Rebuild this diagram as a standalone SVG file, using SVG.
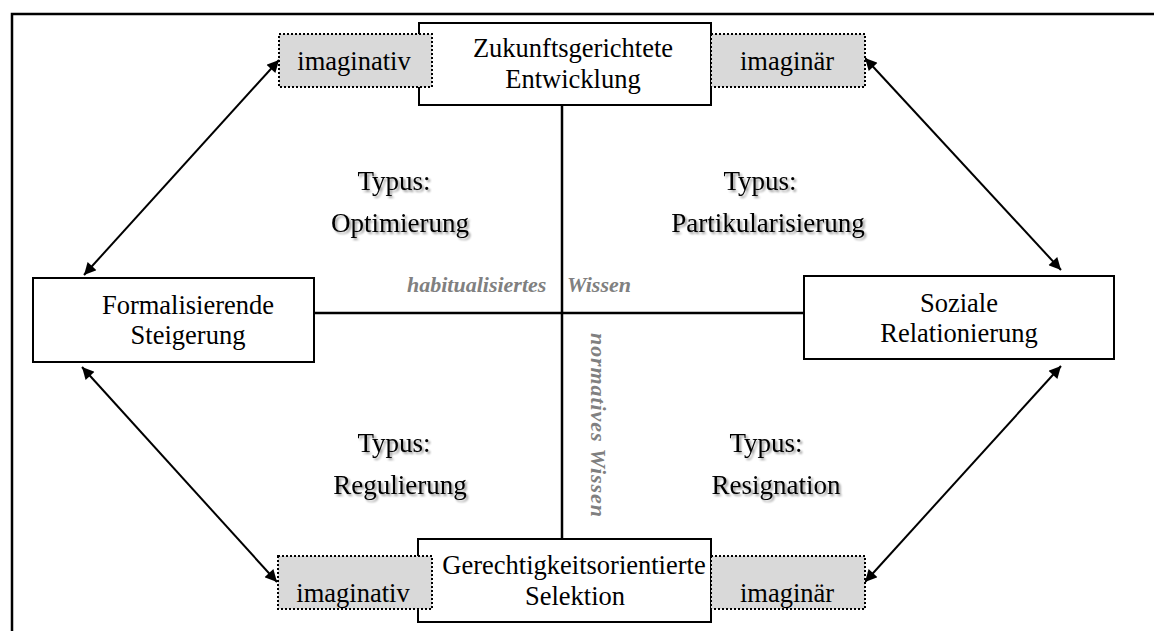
<svg xmlns="http://www.w3.org/2000/svg" width="1154" height="631" viewBox="0 0 1154 631">
<style>
.box{fill:#fff;stroke:#000;stroke-width:2}
.gray{fill:#d9d9d9;stroke:#000;stroke-width:2;stroke-dasharray:2 2}
.t{font-family:"Liberation Serif","Times New Roman",serif;font-size:26.5px;fill:#000;text-anchor:middle}
.ty{font-family:"Liberation Serif","Times New Roman",serif;font-size:27px;fill:#000;text-anchor:middle;filter:url(#sh)}
.w{font-family:"Liberation Serif","Times New Roman",serif;font-size:22px;font-weight:bold;font-style:italic;fill:#808080}
.ax{stroke:#000;stroke-width:2.5;fill:none}
.ar{stroke:#000;stroke-width:2;fill:none;marker-start:url(#ah);marker-end:url(#ah)}
</style>
<defs>
<marker id="ah" viewBox="0 0 10 10" refX="10" refY="5" markerWidth="16" markerHeight="12" markerUnits="userSpaceOnUse" orient="auto-start-reverse">
<path d="M0,0 L10,5 L0,10 z" fill="#000"/>
</marker>
<filter id="sh" x="-10%" y="-20%" width="130%" height="150%">
<feGaussianBlur in="SourceAlpha" stdDeviation="1.2"/>
<feOffset dx="2" dy="2" result="b"/>
<feComponentTransfer><feFuncA type="linear" slope="0.4"/></feComponentTransfer>
<feMerge><feMergeNode/><feMergeNode in="SourceGraphic"/></feMerge>
</filter>
</defs>
<rect width="1154" height="631" fill="#fff"/>
<path d="M12,631 V14 H1154" stroke="#000" stroke-width="2.5" fill="none"/>
<g id="connectors">
<line class="ax" x1="562" y1="105" x2="562" y2="539"/>
<line class="ax" x1="314" y1="313" x2="804" y2="313"/>
<line class="ar" x1="279" y1="60" x2="84" y2="275"/>
<line class="ar" x1="82" y1="367" x2="277" y2="582"/>
<line class="ar" x1="865" y1="58" x2="1061" y2="270"/>
<line class="ar" x1="1061" y1="366" x2="865" y2="582"/>
</g>
<g id="labels">
<text class="w" x="407" y="292">habitualisiertes</text>
<text class="w" x="567" y="292">Wissen</text>
<text class="w" transform="translate(591,333) rotate(90)" textLength="184" lengthAdjust="spacing">normatives Wissen</text>
</g>
<g id="typ-opt"><text class="ty" x="394" y="190">Typus:</text><text class="ty" x="400" y="232">Optimierung</text></g>
<g id="typ-part"><text class="ty" x="760" y="190">Typus:</text><text class="ty" x="768" y="232">Partikularisierung</text></g>
<g id="typ-reg"><text class="ty" x="394" y="452">Typus:</text><text class="ty" x="400" y="494">Regulierung</text></g>
<g id="typ-res"><text class="ty" x="766" y="452">Typus:</text><text class="ty" x="776" y="494">Resignation</text></g>
<g id="n-top"><rect class="box" x="419" y="23" width="292" height="82"/><text class="t" x="573" y="57">Zukunftsgerichtete</text><text class="t" x="573" y="88">Entwicklung</text></g>
<g id="n-left"><rect class="box" x="33" y="278" width="281" height="84"/><text class="t" x="188" y="314">Formalisierende</text><text class="t" x="188" y="344">Steigerung</text></g>
<g id="n-right"><rect class="box" x="804" y="276" width="310" height="83"/><text class="t" x="959" y="312">Soziale</text><text class="t" x="959" y="342">Relationierung</text></g>
<g id="n-bottom"><rect class="box" x="418" y="539" width="293" height="83"/><text class="t" x="574" y="574">Gerechtigkeitsorientierte</text><text class="t" x="575" y="605">Selektion</text></g>
<g id="g-tl"><rect class="gray" x="279" y="34" width="153" height="53"/><text class="t" x="354" y="70">imaginativ</text></g>
<g id="g-tr"><rect class="gray" x="711" y="34" width="154" height="53"/><text class="t" x="787" y="70">imaginär</text></g>
<g id="g-bl"><rect class="gray" x="278" y="556" width="154" height="53"/><text class="t" x="353" y="602">imaginativ</text></g>
<g id="g-br"><rect class="gray" x="711" y="556" width="154" height="53"/><text class="t" x="787" y="602">imaginär</text></g>
</svg>
